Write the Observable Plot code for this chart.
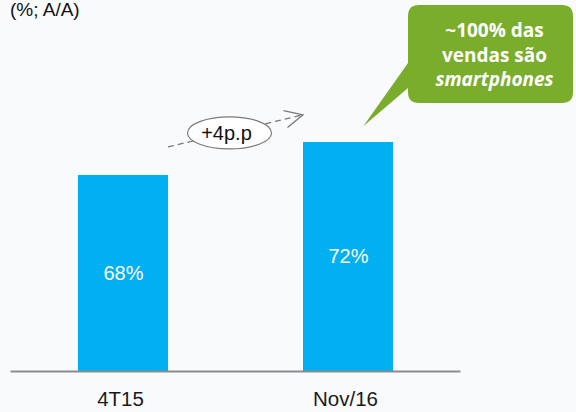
<!DOCTYPE html>
<html><head><meta charset="utf-8">
<script src="https://cdn.jsdelivr.net/npm/d3@7"></script>
<script src="https://cdn.jsdelivr.net/npm/@observablehq/plot@0.6"></script>
<style>
html,body{margin:0;padding:0;background:#f9fafc;}
#wrap{position:relative;width:576px;height:412px;overflow:hidden;}
#title{position:absolute;left:10px;top:0px;font:19px "Liberation Sans",Arial,sans-serif;color:#111;white-space:nowrap;line-height:20px;}
#wrap svg{position:absolute;left:0;top:0;}
</style></head><body>
<div id="wrap"><div id="title">(%; A/A)</div></div>
<script>
// ---- data ----
const categories = ["4T15", "Nov/16"];
const values = [68, 72];
const valueLabels = ["68%", "72%"];
const axisFloor = 44.2;           // y-axis starts here (truncated axis)
const deltaLabel = "+4p.p";
const arrowValues = [71.4, 75.3];  // arrow start / end levels
const calloutLines = ["~100% das", "vendas são", "smartphones"];
const calloutAnchor = 73.9;

const data = categories.map((c, i) => ({cat: c, value: values[i], label: valueLabels[i]}));

const W = 576, H = 412;
const plot = Plot.plot({
  width: W, height: H,
  marginLeft: 10.5, marginRight: 115.5, marginTop: 142, marginBottom: 41,
  style: {fontFamily: "'Liberation Sans', Arial, sans-serif", fontSize: "20px", background: "transparent", color: "#1a1a1a", overflow: "visible"},
  x: {domain: categories, paddingInner: 0.6, paddingOuter: 0.3, round: false},
  y: {domain: [axisFloor, 72], axis: null},
  marks: [
    Plot.barY(data, {x: "cat", y1: () => axisFloor, y2: "value", fill: "#00b0f0"}),
    Plot.ruleY([axisFloor], {stroke: "#8c8c8c", strokeWidth: 2}),
    Plot.text(data, {x: "cat", y: d => (axisFloor + d.value) / 2, text: "label", fill: "white", fontSize: 20}),
    Plot.axisX({tickSize: 0, tickPadding: 20, fontSize: 20.5, label: null, dx: -3})
  ]
});
document.getElementById("wrap").appendChild(plot);

// ---- annotations positioned with the plot's own scales ----
const xs = plot.scale("x"), ys = plot.scale("y");
const bw = xs.bandwidth;
const svg = d3.select(plot);
const g = svg.append("g");

const ax1 = xs.apply(categories[0]) + bw, ay1 = ys.apply(arrowValues[0]);
const ax2 = xs.apply(categories[1]), ay2 = ys.apply(arrowValues[1]);
g.append("line").attr("x1", ax1).attr("y1", ay1).attr("x2", ax2).attr("y2", ay2)
  .attr("stroke", "#7a7a7a").attr("stroke-width", 1.3).attr("stroke-dasharray", "6,4");
const ang = Math.atan2(ay2 - ay1, ax2 - ax1), hl = 20, ha = 0.45;
g.append("path")
  .attr("d", `M${ax2 - hl * Math.cos(ang - ha)},${ay2 - hl * Math.sin(ang - ha)}L${ax2},${ay2}L${ax2 - hl * Math.cos(ang + ha)},${ay2 - hl * Math.sin(ang + ha)}`)
  .attr("fill", "none").attr("stroke", "#7a7a7a").attr("stroke-width", 1.3);
const ex = (ax1 + ax2) / 2 - 6, ey = (ay1 + ay2) / 2 + 2;
g.append("ellipse").attr("cx", ex).attr("cy", ey).attr("rx", 42).attr("ry", 16)
  .attr("fill", "white").attr("stroke", "#7a7a7a").attr("stroke-width", 1.2);
g.append("text").attr("x", ex - 3).attr("y", ey + 2).attr("text-anchor", "middle").attr("dominant-baseline", "middle")
  .attr("font-size", 20).attr("fill", "#111").text(deltaLabel);

// callout
const tipX = xs.apply(categories[1]) + bw * 0.67, tipY = ys.apply(calloutAnchor);
const bx0 = 408, bx1 = W - 3, by0 = 5, by1 = 103, r = 11;
const green = "#79ad2b";
g.append("path").attr("fill", green).attr("d",
  `M${bx0 + r},${by0}H${bx1 - r}Q${bx1},${by0} ${bx1},${by0 + r}V${by1 - r}Q${bx1},${by1} ${bx1 - r},${by1}H${bx0 + r}Q${bx0},${by1} ${bx0},${by1 - r}V${by0 + 83}L${tipX},${tipY}L${bx0},${by0 + 58}V${by0 + r}Q${bx0},${by0} ${bx0 + r},${by0}Z`);
const tcx = (bx0 + bx1) / 2 + 4;
calloutLines.forEach((t, i) => {
  g.append("text").attr("x", tcx).attr("y", 37 + i * 24.5).attr("text-anchor", "middle")
    .attr("font-family", "'Open Sans', sans-serif").attr("font-weight", 700).attr("font-size", 19)
    .attr("font-style", i === 2 ? "italic" : "normal").attr("fill", "white").text(t);
});
</script>
</body></html>
